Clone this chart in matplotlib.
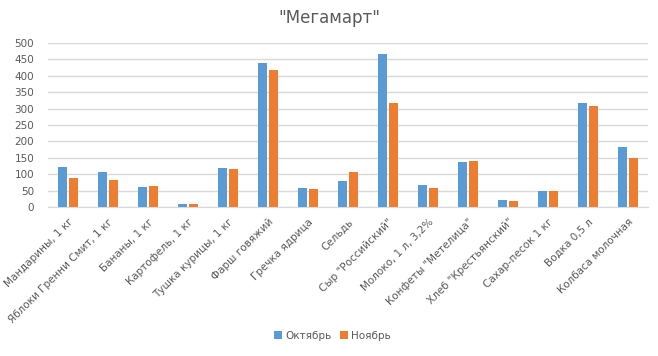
import numpy as np
import matplotlib.pyplot as plt

categories = ["Мандарины, 1 кг", "Яблоки Гренни Смит, 1 кг", "Бананы, 1 кг",
              "Картофель, 1 кг", "Тушка курицы, 1 кг", "Фарш говяжий",
              "Гречка ядрица", "Сельдь", "Сыр \"Российский\"",
              "Молоко, 1 л, 3,2%", "Конфеты \"Метелица\"",
              "Хлеб \"Крестьянский\"", "Сахар-песок 1 кг", "Водка 0,5 л",
              "Колбаса молочная"]
october = [122, 106, 60, 8, 118, 440, 57, 79, 467, 66, 137, 20, 48, 317, 183]
november = [88, 82, 63, 8, 115, 418, 54, 106, 317, 57, 140, 17, 48, 308, 149]

blue = "#5B9BD5"
orange = "#ED7D31"
grey = "#595959"

fig = plt.figure(figsize=(6.58, 3.56), dpi=100)
ax = fig.add_axes([48 / 658, 1 - 207 / 356, 600 / 658, 164 / 356])

x = np.arange(len(categories))
w = 0.225
ax.bar(x - 0.1375, october, width=w, color=blue, label="Октябрь", zorder=3)
ax.bar(x + 0.1375, november, width=w, color=orange, label="Ноябрь", zorder=3)

ax.set_xlim(-0.5, len(categories) - 0.5)
ax.set_ylim(0, 500)
ax.set_yticks(range(0, 501, 50))
ax.yaxis.grid(True, color="#D9D9D9", linewidth=1, zorder=0)
ax.set_axisbelow(True)
for s in ["top", "right", "left"]:
    ax.spines[s].set_visible(False)
ax.spines["bottom"].set_color("#D9D9D9")
ax.tick_params(axis="both", length=0, labelcolor=grey, labelsize=7.5)
ax.tick_params(axis="y", pad=10)

ax.set_xticks(x)
ax.set_xticklabels(categories, rotation=45, ha="right", rotation_mode="anchor")
ax.tick_params(axis="x", pad=7)

fig.text(0.5, 1 - 18 / 356, "\"Мегамарт\"", ha="center", va="center",
         fontsize=12, color=grey)

fig.legend(loc="center", bbox_to_anchor=(0.505, 1 - 336 / 356), ncol=2,
           frameon=False, fontsize=7.5, labelcolor=grey, handlelength=0.8,
           handleheight=0.8, columnspacing=0.8, handletextpad=0.3)

fig.savefig("out.png", dpi=100)
